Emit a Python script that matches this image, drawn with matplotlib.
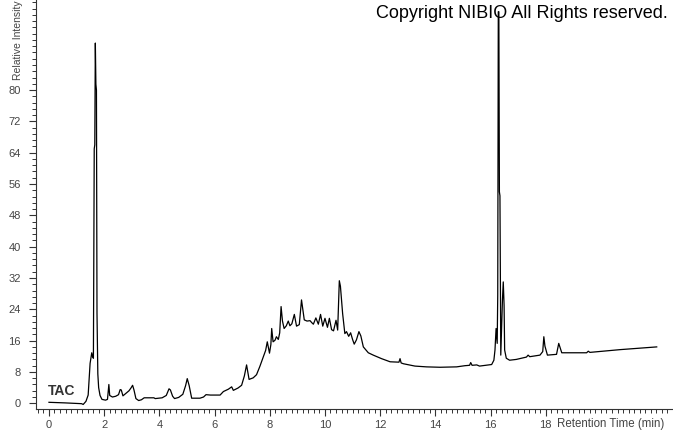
import matplotlib
matplotlib.use("Agg")
import matplotlib.pyplot as plt
from matplotlib.ticker import MultipleLocator, FixedLocator

# retention time (min) and relative intensity (%)
time = [
    0.00, 0.58, 1.18, 1.24, 1.34, 1.42, 1.49, 1.55, 1.58, 1.61, 1.64, 1.66, 1.68, 1.70, 1.72,
    1.74, 1.77, 1.80, 1.85, 1.92, 2.05, 2.12, 2.17, 2.20, 2.30, 2.42, 2.52, 2.58, 2.62, 2.68,
    2.78, 2.90, 2.98, 3.03, 3.08, 3.15, 3.25, 3.35, 3.45, 3.80, 3.85, 4.10, 4.25, 4.35, 4.40,
    4.48, 4.55, 4.70, 4.85, 4.95, 5.01, 5.08, 5.17, 5.47, 5.60, 5.69, 5.85, 6.20, 6.32, 6.50,
    6.62, 6.68, 6.85, 6.98, 7.08, 7.16, 7.25, 7.40, 7.52, 7.64, 7.77, 7.85, 7.91, 7.99, 8.04,
    8.07, 8.12, 8.19, 8.24, 8.31, 8.36, 8.41, 8.46, 8.52, 8.60, 8.67, 8.73, 8.80, 8.89, 8.97,
    9.07, 9.15, 9.25, 9.35, 9.46, 9.52, 9.58, 9.67, 9.76, 9.84, 9.92, 10.00, 10.09, 10.16, 10.24,
    10.31, 10.40, 10.46, 10.52, 10.56, 10.64, 10.72, 10.78, 10.86, 10.93, 11.00, 11.06, 11.14, 11.23, 11.30,
    11.39, 11.57, 11.75, 12.05, 12.36, 12.68, 12.72, 12.76, 12.84, 13.26, 13.68, 14.17, 14.77, 15.07, 15.24,
    15.28, 15.33, 15.50, 15.60, 16.04, 16.12, 16.16, 16.20, 16.24, 16.26, 16.28, 16.30, 16.32, 16.34, 16.37,
    16.43, 16.46, 16.49, 16.51, 16.57, 16.69, 16.93, 17.30, 17.36, 17.42, 17.79, 17.89, 17.93, 17.97, 18.06,
    18.39, 18.47, 18.52, 18.58, 19.48, 19.54, 19.60, 20.69, 22.02,
]
intensity = [
    0.25, 0.1, -0.1, -0.3, 0.5, 2.1, 10.2, 12.9, 11.9, 11.5, 65.0, 66.0, 92.0, 81.5, 80.0,
    23.0, 7.5, 4.0, 2.0, 1.0, 0.8, 1.0, 4.8, 2.0, 1.6, 1.8, 2.2, 3.5, 3.4, 1.9,
    2.5, 3.2, 4.0, 4.6, 3.4, 1.2, 0.7, 0.9, 1.4, 1.4, 1.2, 1.4, 2.0, 3.7, 3.4,
    1.8, 1.2, 1.5, 2.3, 4.5, 6.3, 4.5, 1.3, 1.3, 1.6, 2.2, 2.1, 2.1, 3.0, 3.6,
    4.2, 3.3, 3.9, 4.6, 7.0, 9.8, 6.1, 6.5, 7.3, 9.4, 11.9, 13.5, 15.7, 12.8, 15.0,
    19.1, 15.7, 16.1, 17.0, 16.3, 18.0, 24.7, 21.0, 19.1, 19.8, 21.0, 19.8, 20.3, 22.7, 19.7,
    20.1, 26.4, 21.3, 21.0, 21.1, 20.6, 20.2, 21.8, 20.2, 22.7, 19.7, 21.7, 19.4, 21.7, 18.8,
    18.5, 21.2, 18.7, 31.3, 29.9, 22.9, 17.8, 18.3, 17.1, 18.0, 16.3, 15.1, 16.2, 18.3, 17.2,
    14.4, 12.9, 12.3, 11.4, 10.6, 10.5, 11.4, 10.3, 10.1, 9.5, 9.3, 9.2, 9.3, 9.6, 9.7,
    10.4, 9.7, 9.8, 9.5, 9.9, 11.0, 13.6, 19.1, 15.3, 27.6, 100.0, 100.0, 54.0, 53.0, 12.3,
    26.3, 31.0, 25.0, 13.6, 11.5, 11.0, 11.2, 11.8, 12.3, 11.9, 12.3, 13.2, 17.0, 14.6, 12.3,
    12.5, 15.3, 14.2, 12.9, 12.9, 13.3, 13.0, 13.7, 14.4,
]

x_labels = [0, 2, 4, 6, 8, 10, 12, 14, 16, 18]
y_labels = [0, 8, 16, 24, 32, 40, 48, 56, 64, 72, 80]

plt.rcParams['font.family'] = ['Liberation Sans', 'DejaVu Sans']

fig = plt.figure(figsize=(6.73, 4.33), dpi=100)
ax = fig.add_axes([36 / 673, 1 - 409 / 433, 1 - 36 / 673, 409 / 433])

ax.plot(time, intensity, color='black', lw=0.9)

ax.set_xlim(-0.47, 22.61)
ax.set_ylim(-1.46, 103.0)

for side in ['top', 'right']:
    ax.spines[side].set_visible(False)
for side in ['left', 'bottom']:
    ax.spines[side].set_color('#333333')
    ax.spines[side].set_linewidth(0.8)

ax.xaxis.set_major_locator(FixedLocator(x_labels))
ax.xaxis.set_minor_locator(MultipleLocator(0.2))
ax.yaxis.set_major_locator(FixedLocator(y_labels))
ax.yaxis.set_minor_locator(MultipleLocator(1.6))
ax.tick_params(axis='both', which='major', length=5, width=0.8, color='#333333',
               labelsize=8, labelcolor='#444444', direction='out')
ax.tick_params(axis='both', which='minor', length=3, width=0.7, color='#333333', direction='out')
ax.tick_params(axis='x', pad=3)
ax.tick_params(axis='y', pad=6)

ax.text(-0.05, 3.1, 'TAC', fontsize=10, fontweight='bold', color='#333333', va='center', ha='left')

fig.text(557 / 673, 1 - 424 / 433, 'Retention Time (min)', fontsize=8.3, color='#444444',
         ha='left', va='center')
fig.text(18 / 673, 0.999, 'Relative Intensity', fontsize=7.5, color='#444444',
         rotation=90, ha='center', va='top')
fig.text(376 / 673, 1 - 14 / 433, 'Copyright NIBIO All Rights reserved.', fontsize=13,
         color='black', ha='left', va='center')

fig.savefig('out.png', dpi=100)
